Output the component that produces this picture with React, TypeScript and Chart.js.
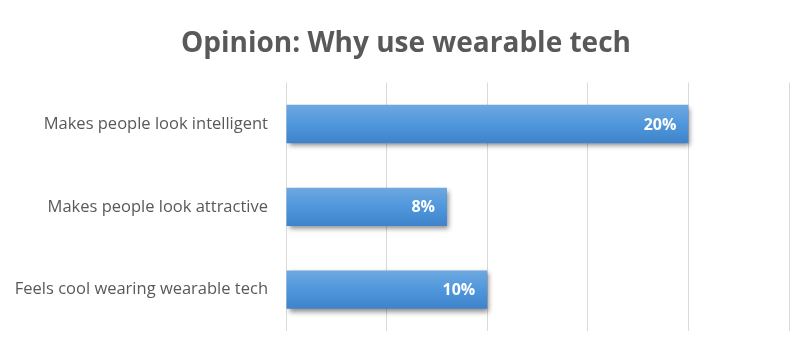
import React, { useEffect, useRef } from "react";
import { Chart, registerables } from "chart.js";

Chart.register(...registerables);

const categories = [
  "Makes people look intelligent",
  "Makes people look attractive",
  "Feels cool wearing wearable tech",
];
const values = [20, 8, 10];
const titleText = "Opinion: Why use wearable tech";

const FONT = "'Open Sans', 'DejaVu Sans', sans-serif";

const shadowPlugin = {
  id: "barShadow",
  beforeDatasetsDraw(chart: any) {
    const ctx = chart.ctx;
    ctx.save();
    ctx.shadowColor = "rgba(0,0,0,0.45)";
    ctx.shadowBlur = 5;
    ctx.shadowOffsetX = 2;
    ctx.shadowOffsetY = 3;
  },
  afterDatasetsDraw(chart: any) {
    chart.ctx.restore();
  },
};

const labelPlugin = {
  id: "barLabels",
  afterDatasetsDraw(chart: any) {
    const ctx = chart.ctx;
    const meta = chart.getDatasetMeta(0);
    ctx.save();
    ctx.fillStyle = "#ffffff";
    ctx.font = `bold 16px ${FONT}`;
    ctx.textAlign = "right";
    ctx.textBaseline = "middle";
    meta.data.forEach((bar: any, i: number) => {
      ctx.fillText(`${values[i]}%`, bar.x - 12, bar.y + 1);
    });
    ctx.restore();
  },
};

export default function App() {
  const ref = useRef<HTMLCanvasElement>(null);
  useEffect(() => {
    if (!ref.current) return;
    const chart = new Chart(ref.current, {
      type: "bar",
      data: {
        labels: categories,
        datasets: [
          {
            data: values,
            backgroundColor: (c: any) => {
              const ch = c.chart;
              const ys = ch.scales && ch.scales.y;
              if (!ys || c.dataIndex === undefined) return "#4f97dc";
              const cy = ys.getPixelForValue(c.dataIndex);
              if (!Number.isFinite(cy)) return "#4f97dc";
              const g = ch.ctx.createLinearGradient(0, cy - 19, 0, cy + 19);
              g.addColorStop(0, "#6ea8e0");
              g.addColorStop(0.5, "#4f97dc");
              g.addColorStop(1, "#3f83ca");
              return g;
            },
            borderWidth: 0,
            categoryPercentage: 1,
            barPercentage: 0.463,
          },
        ],
      },
      options: {
        indexAxis: "y",
        animation: false,
        responsive: false,
        layout: { padding: { left: 0, right: 0, top: 0, bottom: 23 } },
        plugins: {
          legend: { display: false },
          tooltip: { enabled: false },
          title: {
            display: true,
            text: titleText,
            color: "#595959",
            font: { family: FONT, size: 28, weight: "bold" },
            padding: { top: 27, bottom: 22 },
          },
        },
        scales: {
          x: {
            min: 0,
            max: 25,
            ticks: { display: false, stepSize: 5 },
            border: { display: false },
            grid: { color: "#d9d9d9", lineWidth: 1, drawTicks: false },
            afterFit(scale: any) {
              scale.height = 0;
              scale.paddingLeft = 0;
              scale.paddingRight = 0;
            },
          },
          y: {
            ticks: {
              color: "#595959",
              font: { family: FONT, size: 16.5 },
              padding: 18,
            },
            border: { display: false },
            grid: { display: false, drawTicks: false },
            afterFit(scale: any) {
              scale.width = 286;
              scale.paddingTop = 0;
              scale.paddingBottom = 0;
            },
          },
          yRight: {
            type: "category",
            position: "right",
            display: true,
            ticks: { display: false },
            border: { display: false },
            grid: { display: false, drawTicks: false },
            afterFit(scale: any) {
              scale.width = 23;
              scale.paddingTop = 0;
              scale.paddingBottom = 0;
            },
          },
        },
      },
      plugins: [shadowPlugin, labelPlugin],
    });
    return () => chart.destroy();
  }, []);
  return (
    <div style={{ position: "fixed", left: 0, top: 0, width: 812, height: 354, background: "#fff" }}>
      <canvas ref={ref} width={812} height={354} style={{ width: 812, height: 354 }} />
    </div>
  );
}
